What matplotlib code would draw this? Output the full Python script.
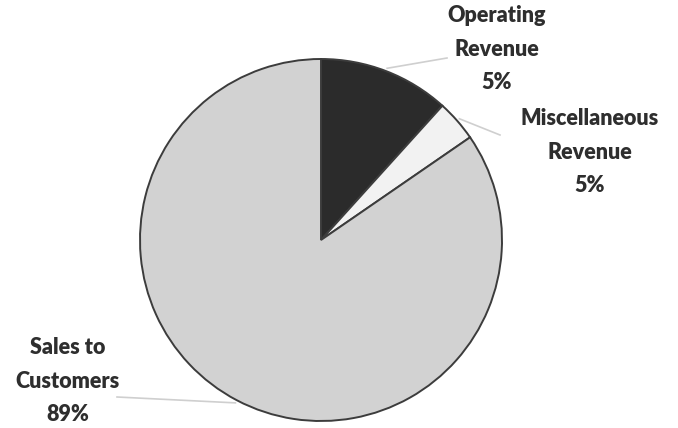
import numpy as np
import matplotlib.pyplot as plt

# slice sizes as drawn, and the labels printed next to them
categories = ['Operating\nRevenue', 'Miscellaneous\nRevenue', 'Sales to\nCustomers']
shares = [11.7, 3.7, 84.6]
pct_labels = ['5%', '5%', '89%']
colors = ['#2b2b2b', '#f2f2f2', '#d2d2d2']

fig = plt.figure(figsize=(6.78, 4.28), dpi=100)
ax = fig.add_axes([0, 0, 1, 1])

cx, cy, r = 321, 188, 181
wedges, _ = ax.pie(shares, colors=colors, startangle=90, counterclock=False,
                   center=(cx, cy), radius=r,
                   wedgeprops=dict(edgecolor='#3c3c3c', linewidth=1.4))

# label anchors (text centre) and leader end points
text_pos = [(497, 379), (590, 276), (68, 47)]
leader_end = [(447, 370), (500, 293), (117, 31)]

for w, lab, pct, tp, le in zip(wedges, categories, pct_labels, text_pos, leader_end):
    mid = np.deg2rad((w.theta1 + w.theta2) / 2)
    sx, sy = cx + (r + 3) * np.cos(mid), cy + (r + 3) * np.sin(mid)
    ax.plot([sx, le[0]], [sy, le[1]], color='#cfcfcf', lw=1.2, zorder=0)
    ax.text(tp[0], tp[1], lab + '\n' + pct, ha='center', va='center',
            fontsize=15.5, fontweight='heavy', family='Lato', color='#2e2e2e',
            linespacing=1.72)

ax.set_xlim(0, 678)
ax.set_ylim(0, 428)
ax.set_aspect('auto')
ax.axis('off')

plt.savefig('out.png', dpi=100)
